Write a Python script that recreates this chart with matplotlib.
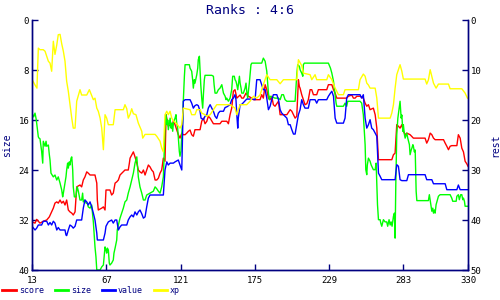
import matplotlib
matplotlib.use("Agg")
import matplotlib.pyplot as plt

# rank histories, x = turn, y = rank (left axis units, 0 at top)
score_x = [13.0, 15.2, 16.4, 18.8, 21.2, 23.7, 25.6, 27.3, 28.5, 29.7, 31.0, 32.1, 33.4, 34.6, 35.8, 37.0,
           38.2, 39.4, 40.6, 41.9, 43.0, 44.3, 45.5, 47.9, 49.1, 50.3, 51.5, 52.8, 53.9, 55.2, 58.8, 60.1,
           60.5, 61.2, 63.7, 64.9, 66.1, 66.8, 69.7, 70.9, 72.1, 73.4, 74.6, 75.8, 77.0, 80.6, 83.0, 83.8,
           84.3, 85.5, 86.7, 87.9, 89.2, 90.3, 91.5, 92.8, 94.0, 95.2, 96.4, 97.6, 98.8, 100.0, 101.2, 102.5,
           103.7, 104.9, 106.1, 107.3, 108.5, 109.7, 110.5, 111.0, 112.1, 113.4, 114.6, 115.8, 117.0, 118.2,
           119.4, 120.6, 121.9, 123.0, 124.3, 125.5, 126.7, 127.9, 129.1, 130.3, 131.5, 135.2, 136.4, 137.6,
           138.8, 140.1, 141.2, 142.5, 144.9, 149.7, 151.0, 154.6, 155.8, 157.0, 158.2, 159.4, 160.6, 161.9,
           164.3, 165.5, 166.7, 168.6, 170.3, 172.8, 174.0, 176.4, 178.8, 180.0, 181.2, 182.5, 183.7, 184.9,
           186.1, 187.3, 188.5, 189.7, 192.2, 193.4, 198.3, 200.7, 201.9, 203.1, 204.3, 205.5, 206.7, 207.4,
           207.9, 209.1, 210.3, 211.5, 212.8, 213.9, 215.2, 216.4, 217.6, 220.0, 221.2, 227.3, 228.5, 231.0,
           232.2, 233.4, 234.6, 241.8, 243.0, 245.5, 246.7, 247.9, 249.1, 251.5, 253.9, 255.2, 256.4, 257.6,
           258.8, 261.2, 262.5, 263.7, 264.9, 274.6, 275.8, 277.0, 278.2, 279.4, 280.6, 281.9, 283.0, 284.3,
           285.5, 287.9, 290.3, 298.8, 300.0, 301.2, 302.5, 303.7, 304.9, 306.1, 312.2, 313.4, 314.6, 315.8,
           317.0, 318.2, 321.9, 323.0, 324.3, 325.5, 326.7, 327.9, 329.1, 330.0]
score_y = [32.3, 32.5, 31.9, 32.5, 32.2, 32.0, 31.5, 30.7, 30.1, 29.3, 29.1, 29.3, 28.8, 29.3, 29.0, 29.6,
           28.8, 30.4, 30.7, 30.9, 31.2, 30.7, 26.7, 26.4, 26.7, 25.6, 25.1, 24.3, 24.5, 24.8, 24.8, 26.1,
           28.8, 30.4, 30.1, 29.9, 30.4, 27.2, 27.2, 28.0, 27.7, 26.1, 25.9, 25.6, 24.8, 24.0, 24.0, 22.9,
           22.1, 21.6, 21.1, 21.9, 22.9, 24.0, 24.3, 24.5, 24.0, 24.8, 24.0, 23.2, 23.5, 24.0, 24.3, 25.6,
           25.6, 25.3, 24.5, 24.0, 22.1, 22.6, 15.15, 15.7, 17.0, 16.75, 17.3, 16.1, 16.75, 17.55,
           18.35, 18.9, 18.1, 18.35, 18.35, 18.1, 17.8, 17.6, 18.35, 18.6, 17.55, 17.55, 16.2, 15.7,
           16.6, 16.2, 15.4, 15.7, 16.6, 16.6, 16.2, 16.2, 16.6, 15.15, 14.1, 11.4, 11.15, 12.5,
           12.0, 12.5, 12.5, 11.7, 12.2, 12.5, 12.75, 12.75, 12.75, 11.95, 12.5, 10.35, 11.15, 12.5,
           12.75, 12.2, 13.55, 13.8, 13.0, 15.15, 15.15, 14.35, 14.6, 15.15, 15.7, 15.4, 9.55, 10.65,
           10.9, 11.95, 12.75, 13.55, 13.4, 12.75, 11.15, 11.15, 11.95, 11.95, 11.15, 11.15, 10.35, 10.35,
           11.15, 11.7, 12.5, 12.5, 12.2, 12.0, 12.5, 12.5, 12.2, 12.2, 12.5, 13.3, 13.8, 13.55,
           14.35, 14.1, 15.15, 17.3, 22.35, 22.35, 21.55, 21.3, 16.75, 17.0, 17.3, 16.75, 17.8, 18.35,
           18.1, 18.35, 18.9, 18.9, 19.7, 19.15, 18.1, 18.35, 18.9, 19.15, 19.15, 19.7, 20.2, 20.75,
           20.2, 20.1, 20.1, 18.35, 18.9, 20.5, 21.1, 22.6, 23.0, 23.4]

size_x = [13.0, 14.2, 15.2, 15.9, 16.4, 17.6, 18.1, 18.8, 20.0, 20.8, 21.2, 22.5, 23.2, 23.7, 24.9, 25.6,
          26.1, 26.8, 28.5, 29.7, 31.0, 32.1, 33.4, 34.6, 35.3, 35.8, 37.0, 37.7, 38.2, 38.9, 39.4, 40.1,
          40.6, 41.4, 41.9, 42.6, 43.0, 43.8, 45.0, 45.5, 45.9, 46.7, 47.9, 49.1, 49.8, 50.3, 51.5, 52.3,
          53.2, 53.9, 55.2, 56.4, 57.1, 57.6, 58.3, 58.8, 59.5, 60.1, 62.5, 63.7, 64.9, 66.1, 66.8, 67.3,
          67.8, 68.5, 69.2, 69.7, 70.9, 72.1, 72.6, 73.4, 74.6, 75.0, 75.8, 77.0, 78.2, 79.4, 80.6, 81.9,
          83.0, 84.3, 85.5, 86.7, 87.9, 89.2, 90.3, 91.5, 92.8, 94.0, 95.2, 96.4, 98.8, 101.2, 102.5, 103.7,
          104.9, 106.1, 107.3, 108.5, 109.0, 109.7, 110.5, 111.0, 111.7, 112.1, 112.8, 113.4, 114.1, 114.6,
          115.3, 115.8, 117.0, 117.7, 118.2, 118.9, 119.4, 120.1, 120.6, 121.3, 121.9, 122.6, 123.0, 123.8,
          124.3, 127.4, 127.9, 129.1, 129.8, 130.3, 131.0, 131.5, 132.8, 133.5, 133.9, 134.7, 135.2, 135.7,
          136.4, 137.1, 137.6, 138.3, 138.8, 143.7, 144.9, 145.4, 146.1, 147.3, 148.5, 149.7, 151.0, 151.7,
          152.2, 153.4, 154.1, 154.6, 155.8, 157.0, 158.2, 158.9, 160.1, 160.6, 161.3, 161.9, 162.6, 163.8,
          164.3, 165.0, 165.5, 166.7, 167.9, 168.6, 169.1, 169.8, 171.0, 172.2, 172.8, 180.0, 181.2, 182.5,
          183.7, 184.9, 185.6, 186.1, 189.7, 192.2, 193.4, 194.6, 195.8, 197.0, 198.3, 204.3, 205.0, 205.5,
          206.2, 207.4, 207.9, 209.1, 209.9, 210.3, 211.0, 228.5, 230.0, 231.0, 232.2, 233.4, 234.1, 234.6,
          239.4, 240.6, 241.8, 242.6, 251.5, 252.7, 253.9, 254.5, 255.2, 255.7, 256.4, 256.8, 257.6, 258.8,
          259.6, 261.2, 262.5, 263.2, 263.7, 264.2, 264.9, 266.1, 266.6, 267.3, 268.5, 269.7, 270.9, 271.6,
          272.6, 273.4, 274.1, 274.8, 275.8, 276.5, 277.0, 277.5, 278.2, 279.0, 279.9, 280.6, 281.4, 281.9,
          282.6, 283.0, 283.8, 284.3, 285.5, 286.2, 287.4, 287.9, 288.7, 289.2, 289.9, 290.3, 291.0, 291.6,
          292.3, 292.8, 301.2, 301.9, 302.5, 303.2, 303.7, 304.4, 304.9, 305.6, 306.1, 306.8, 307.8, 308.5,
          309.7, 317.0, 318.2, 318.9, 321.4, 321.9, 323.0, 323.7, 324.7, 325.5, 326.2, 326.7, 327.4, 327.9,
          330.0]
size_y = [14.9, 15.5, 14.9, 15.7, 16.5, 18.7, 18.9, 19.0, 21.0, 22.9, 19.4, 20.2, 19.4, 20.2, 20.0, 21.55,
          22.4, 24.5, 25.1, 24.8, 25.6, 25.1, 26.1, 27.2, 28.3, 27.7, 26.1, 25.1, 24.0, 22.9, 23.7, 22.7,
          23.2, 22.1, 21.9, 24.0, 26.7, 28.3, 28.3, 27.2, 26.7, 27.4, 28.8, 28.8, 27.7, 29.1, 28.8, 29.3,
          29.3, 29.9, 30.1, 29.6, 31.2, 32.3, 34.7, 36.3, 37.9, 40.0, 40.0, 39.5, 39.2, 36.3, 36.8, 37.3,
          36.5, 36.8, 38.9, 39.2, 38.9, 38.4, 37.3, 36.5, 35.2, 33.6, 32.8, 31.7, 30.9, 30.1, 29.1, 28.8,
          27.7, 26.7, 25.6, 24.5, 22.9, 21.9, 25.1, 26.7, 27.7, 28.8, 28.8, 28.0, 27.7, 27.4, 26.7, 27.0,
          27.4, 27.7, 26.7, 25.1, 22.1, 16.75, 15.15, 16.75, 16.0, 17.55, 16.5, 15.7, 17.3, 16.5,
          17.8, 16.5, 15.7, 15.15, 16.5, 17.3, 18.9, 21.0, 21.8, 21.0, 18.35, 15.7, 13.0, 9.0,
          7.15, 7.15, 7.7, 8.2, 9.55, 10.9, 9.55, 10.1, 8.75, 7.7, 6.35, 5.8, 8.2, 10.35,
          12.5, 14.1, 12.0, 9.55, 8.85, 8.85, 9.0, 10.35, 11.7, 11.7, 11.15, 10.9, 10.35, 11.15,
          11.7, 12.2, 12.75, 12.5, 13.0, 12.5, 11.15, 9.0, 9.0, 9.55, 9.8, 10.35, 11.15, 9.0,
          10.1, 10.9, 11.7, 11.7, 10.9, 10.1, 11.4, 12.5, 10.1, 7.15, 6.9, 6.9, 6.1, 6.6,
          8.2, 11.7, 12.75, 12.2, 12.5, 12.5, 12.75, 11.95, 11.95, 12.75, 13.0, 13.0, 10.35, 8.75,
          7.15, 7.4, 7.95, 8.5, 9.0, 7.15, 6.9, 6.9, 7.7, 8.5, 9.8, 11.95, 13.3, 13.8,
          13.8, 13.3, 13.8, 13.0, 13.0, 13.3, 15.15, 17.3, 19.95, 23.95, 24.75, 23.2, 22.1, 22.6,
          23.2, 23.95, 23.95, 22.9, 26.35, 29.55, 31.95, 31.95, 32.5, 33.0, 31.95, 32.3, 32.3, 33.0,
          31.95, 32.8, 32.3, 33.0, 31.4, 30.9, 34.9, 26.35, 18.35, 15.7, 14.1, 13.0, 15.7, 15.2,
          17.8, 16.75, 18.35, 18.9, 18.1, 18.9, 19.95, 21.55, 20.8, 20.5, 19.95, 20.2, 21.1, 20.8,
          27.4, 28.9, 28.9, 27.95, 28.8, 29.8, 30.6, 30.1, 30.9, 30.4, 30.9, 29.55, 28.75, 28.2,
          27.95, 27.95, 28.5, 29.0, 29.0, 28.2, 27.95, 28.75, 27.95, 27.95, 28.75, 28.5, 29.0, 29.8,
          29.8]

value_x = [13.0, 15.2, 16.4, 17.6, 20.0, 21.2, 23.7, 24.9, 26.1, 27.3, 28.5, 29.7, 31.0, 32.1, 33.4, 37.0,
           37.7, 38.2, 39.4, 40.6, 41.9, 43.0, 44.3, 45.5, 49.1, 50.3, 51.5, 52.8, 53.9, 55.2, 56.4, 57.6,
           58.8, 60.1, 60.5, 64.9, 66.1, 66.8, 68.5, 70.9, 72.1, 73.4, 74.6, 75.8, 77.0, 78.2, 81.9, 83.0,
           84.3, 85.5, 86.7, 87.9, 89.2, 90.3, 91.5, 92.8, 94.0, 95.2, 96.4, 97.6, 98.8, 108.5, 109.7, 111.0,
           112.1, 113.4, 115.8, 117.0, 119.4, 120.6, 121.9, 122.3, 123.0, 124.3, 127.9, 129.1, 130.3, 131.5,
           132.8, 133.9, 135.2, 135.9, 137.6, 138.8, 140.1, 141.2, 142.5, 143.7, 144.9, 146.1, 147.3, 148.5,
           149.7, 152.2, 153.4, 154.6, 157.0, 158.2, 159.4, 160.6, 161.3, 161.9, 162.6, 163.0, 164.3, 165.5,
           169.1, 172.8, 175.2, 176.4, 178.8, 180.0, 181.2, 182.5, 183.7, 184.9, 186.1, 187.3, 188.5, 191.0,
           192.2, 193.4, 194.6, 195.8, 198.3, 199.4, 200.7, 201.9, 203.1, 204.3, 205.5, 206.7, 207.9, 209.1,
           210.3, 211.5, 213.9, 215.2, 218.8, 220.0, 221.2, 227.3, 228.5, 230.0, 231.0, 232.2, 233.4, 234.6,
           239.4, 240.6, 241.8, 243.0, 251.5, 252.7, 253.9, 255.2, 256.4, 257.6, 258.8, 260.0, 261.2, 262.5,
           263.7, 264.9, 266.1, 267.3, 277.0, 278.2, 279.4, 280.6, 281.9, 285.5, 286.7, 298.8, 300.0, 303.7,
           304.9, 313.4, 314.6, 321.9, 323.0, 324.3, 330.0]
value_y = [33.0, 33.6, 33.3, 32.8, 32.8, 32.2, 32.2, 32.8, 32.4, 32.8, 32.2, 32.5, 33.6, 33.2, 33.6, 33.6,
           34.4, 34.5, 33.6, 32.8, 33.0, 33.3, 33.0, 32.0, 32.0, 30.1, 28.8, 29.1, 29.6, 29.1, 29.9, 30.9,
           32.0, 34.1, 35.2, 35.2, 34.1, 33.0, 32.3, 32.0, 32.5, 32.0, 32.0, 33.6, 33.1, 32.8, 32.8, 32.0,
           31.5, 31.2, 31.5, 30.7, 31.2, 30.7, 30.4, 31.0, 31.7, 31.5, 29.9, 28.5, 28.0, 28.0, 24.0, 22.7,
           23.2, 22.9, 22.9, 22.7, 22.4, 23.2, 24.0, 19.95, 13.0, 12.75, 12.75, 13.3, 14.1, 13.7,
           13.55, 13.7, 14.6, 15.7, 15.95, 15.4, 15.15, 14.1, 13.55, 14.1, 14.6, 15.4, 15.75, 14.9,
           14.6, 14.6, 14.0, 13.9, 13.55, 12.75, 12.5, 11.95, 12.75, 15.15, 17.3, 15.7, 13.55, 13.5,
           12.65, 12.65, 12.75, 9.55, 9.55, 10.35, 11.15, 11.15, 12.5, 14.35, 13.8, 12.75, 11.95, 11.95,
           12.75, 14.35, 14.9, 15.15, 15.7, 16.75, 16.75, 17.55, 18.25, 18.25, 16.75, 15.15, 14.35, 12.75,
           13.55, 14.1, 14.1, 12.75, 12.75, 13.3, 12.75, 12.75, 12.2, 11.7, 11.4, 12.2, 15.7, 16.5,
           16.5, 15.7, 12.5, 11.95, 11.95, 12.5, 11.95, 15.7, 17.3, 16.75, 15.95, 17.3, 17.55, 18.1,
           18.6, 24.5, 25.0, 25.55, 25.55, 23.15, 23.4, 25.55, 25.7, 25.7, 24.75, 24.75, 25.55, 25.55,
           26.2, 26.2, 27.15, 27.15, 26.4, 27.15, 27.15]

xp_x = [13.0, 15.2, 16.6, 17.6, 18.8, 21.2, 22.5, 24.9, 26.1, 27.3, 28.5, 29.7, 31.0, 32.1, 33.4, 34.6,
        35.8, 37.0, 38.2, 39.4, 40.6, 41.9, 43.0, 44.3, 45.5, 46.7, 47.9, 49.1, 52.8, 54.7, 56.4, 57.6,
        58.8, 60.1, 61.2, 62.5, 63.7, 64.9, 66.1, 67.3, 68.5, 72.1, 73.4, 79.4, 80.6, 81.9, 83.0, 84.3,
        85.5, 86.7, 88.6, 90.3, 92.8, 93.5, 95.2, 102.5, 103.7, 106.1, 107.3, 108.5, 109.7, 111.0, 112.1, 113.4,
        114.6, 115.8, 118.2, 120.6, 121.9, 123.0, 127.9, 129.1, 131.5, 132.8, 135.2, 136.4, 138.8, 140.1,
        142.5, 147.3, 157.0, 160.6, 161.9, 164.3, 169.1, 171.5, 174.0, 176.4, 178.8, 181.2, 183.7, 186.1,
        191.0, 193.4, 195.8, 205.5, 206.7, 209.1, 210.3, 215.2, 216.4, 218.8, 220.0, 227.3, 228.5, 231.0,
        233.4, 235.8, 239.4, 240.6, 250.3, 251.5, 253.0, 253.9, 255.2, 256.4, 257.6, 258.8, 262.5, 263.7,
        264.9, 273.4, 274.6, 275.8, 277.0, 278.2, 280.6, 281.9, 283.0, 298.8, 300.0, 301.2, 302.5, 303.7,
        304.9, 306.8, 308.5, 315.8, 317.0, 325.5, 327.9, 329.6]
xp_y = [9.5, 10.4, 10.9, 4.5, 4.75, 4.75, 5.0, 6.6, 6.9, 8.2, 3.4, 5.5, 4.0, 2.35, 2.3, 3.8,
        5.0, 6.6, 9.8, 11.4, 13.5, 15.7, 17.3, 17.3, 13.0, 12.1, 11.15, 12.0, 12.0, 11.15, 12.1, 12.75,
        12.5, 14.1, 14.6, 15.7, 17.3, 20.75, 15.15, 15.7, 16.75, 16.75, 14.35, 14.35, 13.55, 14.2, 15.7, 15.1,
        14.2, 15.0, 15.15, 16.5, 17.8, 18.9, 18.3, 18.3, 18.6, 19.4, 20.5, 21.1, 15.15, 14.6, 15.15, 14.6,
        15.7, 16.1, 16.6, 17.3, 16.75, 14.1, 14.35, 15.15, 15.15, 14.35, 14.35, 14.9, 15.15, 15.4,
        15.15, 13.55, 13.55, 14.1, 15.15, 13.55, 13.55, 13.0, 12.2, 12.5, 12.0, 10.35, 8.75, 9.55,
        9.55, 10.2, 9.55, 9.55, 6.35, 7.3, 8.5, 8.75, 9.55, 8.75, 9.55, 9.55, 8.75, 9.55,
        10.9, 11.95, 11.95, 11.15, 11.15, 9.55, 9.0, 8.65, 9.0, 10.1, 10.4, 10.9, 10.9, 12.5,
        15.7, 15.7, 14.9, 13.55, 10.9, 8.75, 7.15, 8.2, 9.45, 9.45, 10.25, 9.6, 7.95, 9.0,
        10.1, 10.9, 10.25, 10.25, 11.0, 11.0, 11.7, 12.5]

x_ticks = [13, 67, 121, 175, 229, 283, 330]
left_ticks = [0, 8, 16, 24, 32, 40]
right_ticks = [0, 10, 20, 30, 40, 50]

NAVY = "#000080"
MONO = "DejaVu Sans Mono"

fig = plt.figure(figsize=(5, 3), dpi=100)
ax = fig.add_axes([0.064, 0.1, 0.872, 0.8333])

ax.plot(score_x, score_y, color="#ff0000", lw=1.0, label="score")
ax.plot(size_x, size_y, color="#00ff00", lw=1.0, label="size")
ax.plot(value_x, value_y, color="#0000ff", lw=1.0, label="value")
ax.plot(xp_x, xp_y, color="#ffff00", lw=1.0, label="xp")

ax.set_xlim(13, 330)
ax.set_ylim(40, 0)
ax.set_xticks(x_ticks)
ax.set_yticks(left_ticks)

ax2 = ax.twinx()
ax2.set_ylim(50, 0)
ax2.set_yticks(right_ticks)

for a in (ax, ax2):
    for side in ("left", "right", "bottom"):
        a.spines[side].set_color(NAVY)
        a.spines[side].set_linewidth(1.0)
    a.spines["top"].set_visible(False)
    a.tick_params(direction="in", length=4, width=1, color=NAVY,
                  labelsize=6.5, labelcolor="black", pad=2)
ax.tick_params(axis="x", pad=4)
for lab in ax.get_xticklabels() + ax.get_yticklabels() + ax2.get_yticklabels():
    lab.set_family(MONO)

ax.set_ylabel("size", color=NAVY, fontsize=7, family=MONO, labelpad=5)
ax2.set_ylabel("rest", color=NAVY, fontsize=7, family=MONO, rotation=90, labelpad=6)
ax.set_title("Ranks : 4:6", color=NAVY, fontsize=9.5, family=MONO, pad=4)

fig.legend(loc="lower left", bbox_to_anchor=(0.0, 0.008), ncol=4, frameon=False,
           borderaxespad=0.0, borderpad=0.3,
           handlelength=1.6, handletextpad=0.35, columnspacing=1.3,
           prop={"family": MONO, "size": 6}, labelcolor=NAVY)
for line in fig.legends[0].get_lines():
    line.set_linewidth(2.0)

fig.savefig("out.png", dpi=100)
